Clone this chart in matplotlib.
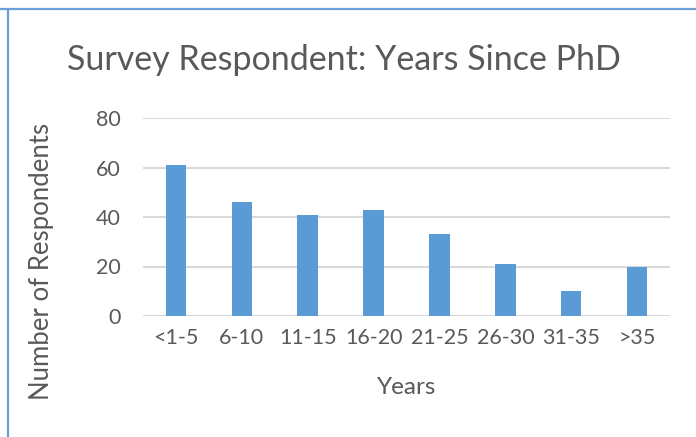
import matplotlib.pyplot as plt
from matplotlib.lines import Line2D

categories = ['<1-5', '6-10', '11-15', '16-20', '21-25', '26-30', '31-35', '>35']
respondents = [61, 46, 41, 43, 33, 21, 10, 20]
y_ticks = [0, 20, 40, 60, 80]

text_color = '#595959'
bar_color = '#5B9BD5'
grid_color = '#D9D9D9'
font = 'Lato'

W, H = 696, 437
fig = plt.figure(figsize=(W / 100, H / 100), dpi=100)
ax = fig.add_axes([143 / W, 1 - 316 / H, (670 - 143) / W, (316 - 118) / H])

x = range(len(categories))
ax.bar(x, respondents, width=0.31, color=bar_color, zorder=3)
ax.set_xlim(-0.5, len(categories) - 0.5)
ax.set_ylim(0, 80)
ax.set_yticks(y_ticks)
ax.set_xticks(list(x))
ax.set_xticklabels(categories)

ax.yaxis.grid(True, color=grid_color, linewidth=1.5, zorder=0)
for s in ax.spines.values():
    s.set_visible(False)
ax.tick_params(length=0, labelsize=15.5, labelcolor=text_color)
ax.tick_params(axis='y', pad=16)
ax.tick_params(axis='x', pad=9)
for lbl in ax.get_xticklabels() + ax.get_yticklabels():
    lbl.set_fontfamily(font)

fig.text(344 / W, 1 - 60 / H, 'Survey Respondent: Years Since PhD', ha='center',
         va='center', fontsize=24.5, color=text_color, family=font)
fig.text(407 / W, 1 - 387 / H, 'Years', ha='center', va='center',
         fontsize=17.5, color=text_color, family=font)
fig.text(42 / W, 1 - 261 / H, 'Number of Respondents', ha='center', va='center',
         rotation=90, fontsize=18.5, color=text_color, family=font)

# chart frame (partly cropped)
border = '#6A9FD8'
fig.add_artist(Line2D([0, 1], [1 - 9 / H, 1 - 9 / H], color=border, linewidth=1.6,
                      transform=fig.transFigure))
fig.add_artist(Line2D([8 / W, 8 / W], [0, 1 - 9 / H], color=border, linewidth=1.6,
                      transform=fig.transFigure))

fig.savefig('out.png', dpi=100)
